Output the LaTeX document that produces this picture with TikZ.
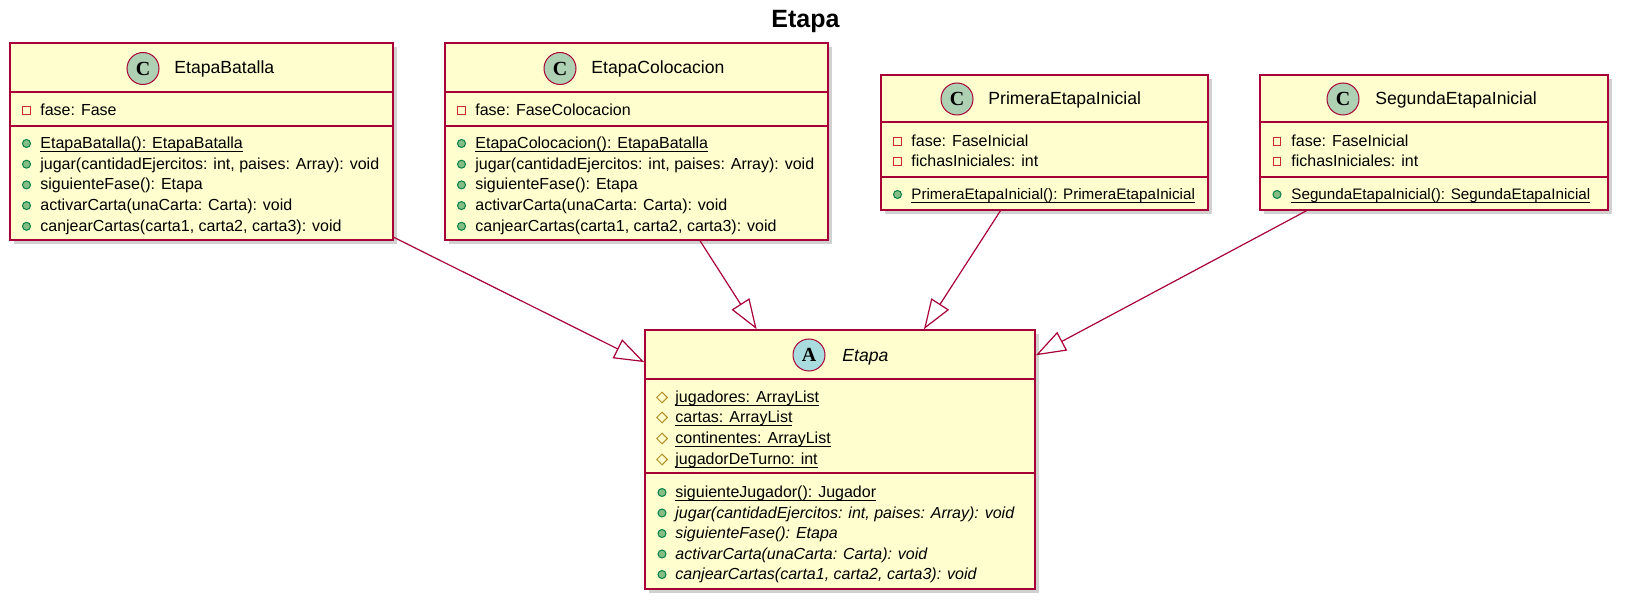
\documentclass[tikz,border=0pt]{standalone}
\usepackage{fontspec}
\setmainfont{Liberation Sans}
\newfontfamily\spotfont{Liberation Serif}
\usetikzlibrary{arrows.meta,shapes.geometric,shadows,fit}

\definecolor{umlfill}{HTML}{FEFECE}
\definecolor{umlred}{HTML}{A80036}
\definecolor{spotc}{HTML}{ADD1B2}
\definecolor{spota}{HTML}{A9DCDF}
\definecolor{privred}{HTML}{C82930}
\definecolor{pubfill}{HTML}{84BE84}
\definecolor{pubdraw}{HTML}{038048}
\definecolor{protgold}{HTML}{B38D22}
\newcommand\staticm[1]{\underline{\smash{#1}}}

\begin{document}
\begin{tikzpicture}[x=0.5pt,y=-0.5pt,
    classbox/.style={draw=umlred,fill=umlfill,line width=0.8pt,inner sep=0pt,
      drop shadow={shadow xshift=2pt,shadow yshift=-2pt,opacity=0.3,fill=black!60}},
    sepline/.style={draw=umlred,line width=0.8pt},
    spot/.style={circle,draw=umlred,line width=0.5pt,minimum size=16pt,inner sep=0pt,
      font=\spotfont\bfseries\fontsize{10pt}{10pt}\selectfont},
    classname/.style={anchor=base west,inner sep=0pt,font=\fontsize{8.8pt}{10pt}\selectfont},
    member/.style={anchor=base west,inner sep=0pt,font=\fontsize{8pt}{9.6pt}\selectfont},
    privicon/.style={rectangle,draw=privred,line width=0.5pt,minimum size=3.6pt,inner sep=0pt},
    pubicon/.style={circle,draw=pubdraw,fill=pubfill,line width=0.5pt,minimum size=4pt,inner sep=0pt},
    proticon/.style={diamond,draw=protgold,line width=0.5pt,minimum size=5.5pt,inner sep=0pt},
    inherit/.style={draw=umlred,line width=0.6pt,-{Triangle[length=15pt,width=10.5pt,fill=white]}}]
  \useasboundingbox (0,0) rectangle (1628,609);
  \node[anchor=base,inner sep=0pt,font=\bfseries\fontsize{12.5pt}{15pt}\selectfont] (title) at (805.5,28) {Etapa};

  % EtapaBatalla
  \node[classbox,fit={(10,43)(393,240)}] (batalla) {};
  \draw[sepline] (batalla.west |- 0,92) -- (batalla.east |- 0,92);
  \draw[sepline] (batalla.west |- 0,126) -- (batalla.east |- 0,126);
  \node[spot,fill=spotc] (batalla-spot) at (143,68.5) {C};
  \node[classname] (batalla-name) at (174,74) {EtapaBatalla};
  \foreach \y/\icon/\txt [count=\k] in {115.5/privicon/{fase: Fase},
      148.5/pubicon/{\staticm{EtapaBatalla(): EtapaBatalla}},
      169.2/pubicon/{jugar(cantidadEjercitos: int, paises: Array): void},
      189.9/pubicon/{siguienteFase(): Etapa},
      210.6/pubicon/{activarCarta(unaCarta: Carta): void},
      231.3/pubicon/{canjearCartas(carta1, carta2, carta3): void}}
    {\node[\icon] (batalla-icon-\k) at (26.5,\y-5) {};
     \node[member] (batalla-m\k) at (40,\y) {\txt};}

  % EtapaColocacion
  \node[classbox,fit={(445,43)(828,240)}] (colocacion) {};
  \draw[sepline] (colocacion.west |- 0,92) -- (colocacion.east |- 0,92);
  \draw[sepline] (colocacion.west |- 0,126) -- (colocacion.east |- 0,126);
  \node[spot,fill=spotc] (colocacion-spot) at (560,68.5) {C};
  \node[classname] (colocacion-name) at (591,74) {EtapaColocacion};
  \foreach \y/\icon/\txt [count=\k] in {115.5/privicon/{fase: FaseColocacion},
      148.5/pubicon/{\staticm{EtapaColocacion(): EtapaBatalla}},
      169.2/pubicon/{jugar(cantidadEjercitos: int, paises: Array): void},
      189.9/pubicon/{siguienteFase(): Etapa},
      210.6/pubicon/{activarCarta(unaCarta: Carta): void},
      231.3/pubicon/{canjearCartas(carta1, carta2, carta3): void}}
    {\node[\icon] (colocacion-icon-\k) at (461.5,\y-5) {};
     \node[member] (colocacion-m\k) at (475,\y) {\txt};}

  % PrimeraEtapaInicial
  \node[classbox,fit={(881,75)(1208,210)}] (primera) {};
  \draw[sepline] (primera.west |- 0,122) -- (primera.east |- 0,122);
  \draw[sepline] (primera.west |- 0,177) -- (primera.east |- 0,177);
  \node[spot,fill=spotc] (primera-spot) at (957,99) {C};
  \node[classname] (primera-name) at (988,105) {PrimeraEtapaInicial};
  \foreach \y/\icon/\txt [count=\k] in {146.5/privicon/{fase: FaseInicial},
      166.5/privicon/{fichasIniciales: int},
      199.5/pubicon/{\fontsize{7.6pt}{9pt}\selectfont\staticm{PrimeraEtapaInicial(): PrimeraEtapaInicial}}}
    {\node[\icon] (primera-icon-\k) at (897.5,\y-5) {};
     \node[member] (primera-m\k) at (911,\y) {\txt};}

  % SegundaEtapaInicial
  \node[classbox,fit={(1260,75)(1608,210)}] (segunda) {};
  \draw[sepline] (segunda.west |- 0,122) -- (segunda.east |- 0,122);
  \draw[sepline] (segunda.west |- 0,177) -- (segunda.east |- 0,177);
  \node[spot,fill=spotc] (segunda-spot) at (1343,99) {C};
  \node[classname] (segunda-name) at (1375,105) {SegundaEtapaInicial};
  \foreach \y/\icon/\txt [count=\k] in {146.5/privicon/{fase: FaseInicial},
      166.5/privicon/{fichasIniciales: int},
      199.5/pubicon/{\fontsize{7.6pt}{9pt}\selectfont\staticm{SegundaEtapaInicial(): SegundaEtapaInicial}}}
    {\node[\icon] (segunda-icon-\k) at (1277,\y-5) {};
     \node[member] (segunda-m\k) at (1291,\y) {\txt};}

  % Etapa (abstract)
  \node[classbox,fit={(645,330)(1035,589)}] (etapa) {};
  \draw[sepline] (etapa.west |- 0,379) -- (etapa.east |- 0,379);
  \draw[sepline] (etapa.west |- 0,473) -- (etapa.east |- 0,473);
  \node[spot,fill=spota] (etapa-spot) at (809,355) {A};
  \node[classname,font=\itshape\fontsize{8.8pt}{10pt}\selectfont] (etapa-name) at (842,361) {Etapa};
  \foreach \y/\icon/\txt [count=\k] in {402.5/proticon/{\staticm{jugadores: ArrayList}},
      422.5/proticon/{\staticm{cartas: ArrayList}},
      443.5/proticon/{\staticm{continentes: ArrayList}},
      464.5/proticon/{\staticm{jugadorDeTurno: int}},
      497.5/pubicon/{\staticm{siguienteJugador(): Jugador}},
      518/pubicon/{\itshape jugar(cantidadEjercitos: int, paises: Array): void},
      538.5/pubicon/{\itshape siguienteFase(): Etapa},
      559/pubicon/{\itshape activarCarta(unaCarta: Carta): void},
      579.5/pubicon/{\itshape canjearCartas(carta1, carta2, carta3): void}}
    {\node[\icon] (etapa-icon-\k) at (662,\y-5) {};
     \node[member] (etapa-m\k) at (675,\y) {\txt};}

  \draw[inherit] (batalla) -- (etapa);
  \draw[inherit] (colocacion) -- (etapa);
  \draw[inherit] (primera) -- (etapa);
  \draw[inherit] (segunda) -- (etapa);
\end{tikzpicture}
\end{document}
